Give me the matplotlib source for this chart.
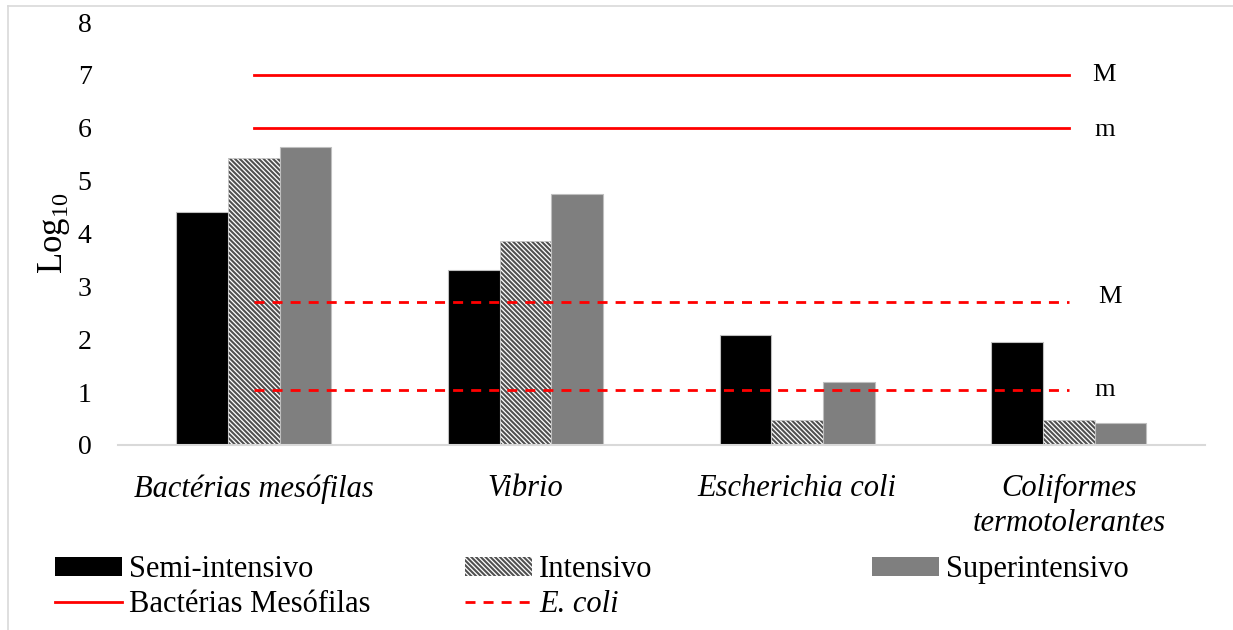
import matplotlib.pyplot as plt
import matplotlib.patches as mpatches
from matplotlib.lines import Line2D
import numpy as np

plt.rcParams['font.family'] = ['Liberation Serif', 'DejaVu Serif']
plt.rcParams['hatch.linewidth'] = 1.5

categories = ['Bactérias mesófilas', 'Vibrio', 'Escherichia coli', 'Coliformes\ntermotolerantes']
semi = [4.40, 3.31, 2.08, 1.95]
intensivo = [5.43, 3.86, 0.47, 0.47]
super_int = [5.63, 4.74, 1.19, 0.42]
meso_limits = {'M': 7.0, 'm': 6.0}
ecoli_limits = {'M': 2.70, 'm': 1.04}

fig = plt.figure(figsize=(12.33, 6.3), dpi=100)
ax = fig.add_axes([0.0957, 0.2937, 0.8813, 0.6713])

# light frame of the chart area (only left and top edges visible)
fx, fy = 8 / 1233, 1 - 6 / 630
fig.add_artist(Line2D([fx, fx], [0, fy], transform=fig.transFigure, color='#d9d9d9', lw=1.2))
fig.add_artist(Line2D([fx, 1], [fy, fy], transform=fig.transFigure, color='#d9d9d9', lw=1.2))

hatch = '\\\\\\\\\\\\\\'
x = np.arange(len(categories))
w = 0.19
ax.bar(x - w, semi, w, color='black', edgecolor='#bfbfbf', lw=0.8)
ax.bar(x, intensivo, w, color='white', edgecolor='#505050', hatch=hatch, lw=0)
ax.bar(x, intensivo, w, fill=False, edgecolor='#d0d0d0', lw=0.6)
ax.bar(x + w, super_int, w, color='#7f7f7f', edgecolor='#bfbfbf', lw=0.8)

dash = (0, (3.6, 2.9))
for lab, val in meso_limits.items():
    ax.plot([x[0], x[-1]], [val, val], color='#ff0000', lw=2)
    ax.text(x[-1] + (0.088 if lab == 'M' else 0.095), val - (0.04 if lab == 'm' else 0),
            lab, fontsize=19, va='center', ha='left')
for lab, val in ecoli_limits.items():
    ax.plot([x[0], x[-1]], [val, val], color='#ff0000', lw=2, ls=dash)
    ax.text(x[-1] + (0.11 if lab == 'M' else 0.095), val + (0.1 if lab == 'M' else 0.0),
            lab, fontsize=19, va='center', ha='left')

ax.set_xlim(-0.5, 3.5)
ax.set_ylim(0, 8)
ax.set_yticks(range(0, 9))
ax.set_xticks(x)
ax.set_xticklabels(categories, fontsize=22, style='italic', linespacing=1.25)
ax.tick_params(axis='x', length=0, pad=21)
ax.tick_params(axis='y', length=0, pad=19, labelsize=20)
for s in ['top', 'right', 'left']:
    ax.spines[s].set_visible(False)
ax.spines['bottom'].set_color('#d9d9d9')
ax.spines['bottom'].set_linewidth(1.5)
ax.set_ylabel('Log$_{\\mathregular{10}}$', fontsize=25, labelpad=4)

h_semi = mpatches.Patch(facecolor='black')
h_int = mpatches.Patch(facecolor='white', edgecolor='#505050', hatch=hatch, lw=0)
h_sup = mpatches.Patch(facecolor='#7f7f7f')
h_meso = Line2D([], [], color='#ff0000', lw=2)
h_eco = Line2D([], [], color='#ff0000', lw=2, ls=dash)

common = dict(frameon=False, fontsize=22, handlelength=2.2, handleheight=0.6,
              handletextpad=0.22, labelspacing=0.2, borderaxespad=0, borderpad=0,
              loc='upper left')
top = 1 - 555 / 630
leg1 = fig.legend([h_semi, h_meso], ['Semi-intensivo', 'Bactérias Mesófilas'],
                  bbox_to_anchor=(55 / 1233, top), **common)
leg2 = fig.legend([h_int, h_eco], ['Intensivo', 'E. coli'],
                  bbox_to_anchor=(465 / 1233, top), **common)
leg2.get_texts()[1].set_style('italic')
leg3 = fig.legend([h_sup], ['Superintensivo'],
                  bbox_to_anchor=(872 / 1233, top), **common)

fig.savefig('out.png', dpi=100)
